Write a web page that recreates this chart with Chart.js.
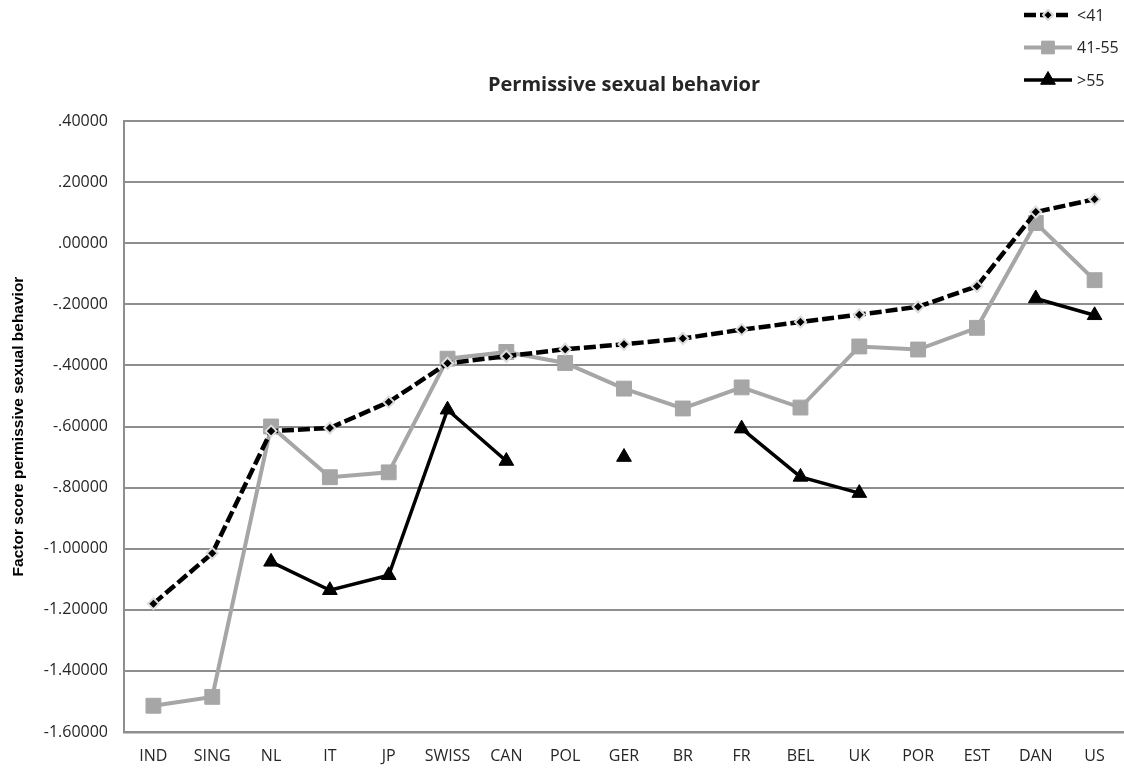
<!DOCTYPE html>
<html>
<head>
<meta charset="utf-8">
<script src="https://cdn.jsdelivr.net/npm/chart.js@4/dist/chart.umd.min.js"></script>
<style>
  html, body { margin: 0; padding: 0; background: #ffffff; }
  #wrap { width: 1124px; height: 769px; }
</style>
</head>
<body>
<div id="wrap"><canvas id="c" width="1124" height="769"></canvas></div>
<script>
// Countries along the x axis
const countries = ['IND', 'SING', 'NL', 'IT', 'JP', 'SWISS', 'CAN', 'POL', 'GER', 'BR', 'FR', 'BEL', 'UK', 'POR', 'EST', 'DAN', 'US'];

// Factor scores per age group (null = no value for that country)
const ageUnder41 = [-1.180, -1.015, -0.615, -0.605, -0.520, -0.393, -0.370, -0.347, -0.331, -0.312, -0.283, -0.258, -0.234, -0.208, -0.141, 0.102, 0.144];
const age41to55  = [-1.514, -1.485, -0.600, -0.766, -0.750, -0.378, -0.356, -0.392, -0.476, -0.541, -0.472, -0.538, -0.338, -0.348, -0.277, 0.066, -0.121];
const ageOver55  = [null, null, -1.043, -1.136, -1.087, -0.545, -0.713, null, -0.700, null, -0.607, -0.765, -0.818, null, null, -0.181, -0.236];

// Series names
const seriesNames = ['<41', '41-55', '>55'];

// Y axis tick labels, bottom to top
const yTickLabels = ['-1.60000', '-1.40000', '-1.20000', '-1.00000', '-.80000', '-.60000', '-.40000', '-.20000', '.00000', '.20000', '.40000'];

const chartTitle = 'Permissive sexual behavior';
const yAxisTitle = 'Factor score permissive sexual behavior';

const GRID = '#8e8e8e';
const TEXT = '#262626';

// Legend drawn in the top-right corner, using each dataset's own style
const cornerLegend = {
  id: 'cornerLegend',
  afterDraw(chart) {
    const ctx = chart.ctx;
    const x1 = 1024, x2 = 1072, tx = 1077;
    chart.data.datasets.forEach((ds, i) => {
      const y = 15 + 32.5 * i;
      ctx.save();
      ctx.strokeStyle = ds.borderColor;
      ctx.lineWidth = ds.borderWidth;
      ctx.setLineDash(ds.borderDash || []);
      ctx.beginPath();
      ctx.moveTo(x1, y);
      ctx.lineTo(x2, y);
      ctx.stroke();
      ctx.setLineDash([]);
      ctx.fillStyle = ds.pointBackgroundColor;
      ctx.strokeStyle = ds.pointBorderColor;
      ctx.lineWidth = ds.pointBorderWidth;
      Chart.helpers.drawPoint(ctx, {
        pointStyle: ds.pointStyle,
        rotation: 0,
        radius: ds.legendPointRadius,
        borderWidth: ds.pointBorderWidth
      }, (x1 + x2) / 2, y);
      ctx.fillStyle = TEXT;
      ctx.font = '16px "Open Sans"';
      ctx.textAlign = 'left';
      ctx.textBaseline = 'middle';
      ctx.fillText(ds.label, tx, y + 1);
      ctx.restore();
    });
  }
};

new Chart(document.getElementById('c'), {
  type: 'line',
  data: {
    labels: countries,
    datasets: [
      {
        label: seriesNames[0],
        data: ageUnder41,
        borderColor: '#000000',
        borderWidth: 4.5,
        borderDash: [12, 4],
        pointStyle: 'rectRot',
        pointRadius: 5.5,
        legendPointRadius: 5,
        pointBackgroundColor: '#000000',
        pointBorderColor: '#dcdcdc',
        pointBorderWidth: 2,
        tension: 0,
        spanGaps: false
      },
      {
        label: seriesNames[1],
        data: age41to55,
        borderColor: '#a6a6a6',
        borderWidth: 4,
        pointStyle: 'rect',
        pointRadius: 10.5,
        legendPointRadius: 9,
        pointBackgroundColor: '#a6a6a6',
        pointBorderColor: '#a6a6a6',
        pointBorderWidth: 1,
        tension: 0,
        spanGaps: false
      },
      {
        label: seriesNames[2],
        data: ageOver55,
        borderColor: '#000000',
        borderWidth: 3.5,
        pointStyle: 'triangle',
        pointRadius: 8.5,
        legendPointRadius: 8.5,
        pointBackgroundColor: '#000000',
        pointBorderColor: '#000000',
        pointBorderWidth: 1,
        tension: 0,
        spanGaps: false
      }
    ]
  },
  options: {
    responsive: false,
    animation: false,
    devicePixelRatio: 1,
    layout: { autoPadding: false, padding: { left: 0, right: 0, top: 0, bottom: 0 } },
    plugins: {
      legend: { display: false },
      tooltip: { enabled: false },
      title: {
        display: true,
        fullSize: false,
        text: chartTitle,
        color: TEXT,
        font: { family: '"Open Sans"', size: 20, weight: 'bold' },
        padding: { top: 73, bottom: 24 }
      }
    },
    scales: {
      x: {
        offset: true,
        // invisible tick marks space the labels below the axis line
        grid: { display: true, drawOnChartArea: false, drawTicks: true, tickLength: 15, color: 'rgba(0,0,0,0)' },
        border: { display: true, color: GRID, width: 2.5 },
        ticks: {
          color: TEXT,
          font: { family: '"Open Sans"', size: 16 },
          padding: 0,
          maxRotation: 0,
          autoSkip: false
        },
        afterFit(scale) {
          scale.height = 37;
          scale.paddingLeft = 0;
          scale.paddingRight = 0;
        }
      },
      y: {
        min: -1.6,
        max: 0.4,
        grid: { color: GRID, lineWidth: 2, drawTicks: false },
        border: { display: true, color: GRID, width: 2 },
        ticks: {
          stepSize: 0.2,
          color: TEXT,
          font: { family: '"Open Sans"', size: 16 },
          padding: 16,
          callback: (value, index) => yTickLabels[index]
        },
        title: {
          display: true,
          text: yAxisTitle,
          color: '#000000',
          font: { family: '"Liberation Sans"', size: 15.5, weight: 'bold' },
          padding: { top: 9, bottom: 0 }
        },
        afterFit(scale) { scale.width = 124; }
      }
    }
  },
  plugins: [cornerLegend]
});
</script>
</body>
</html>
